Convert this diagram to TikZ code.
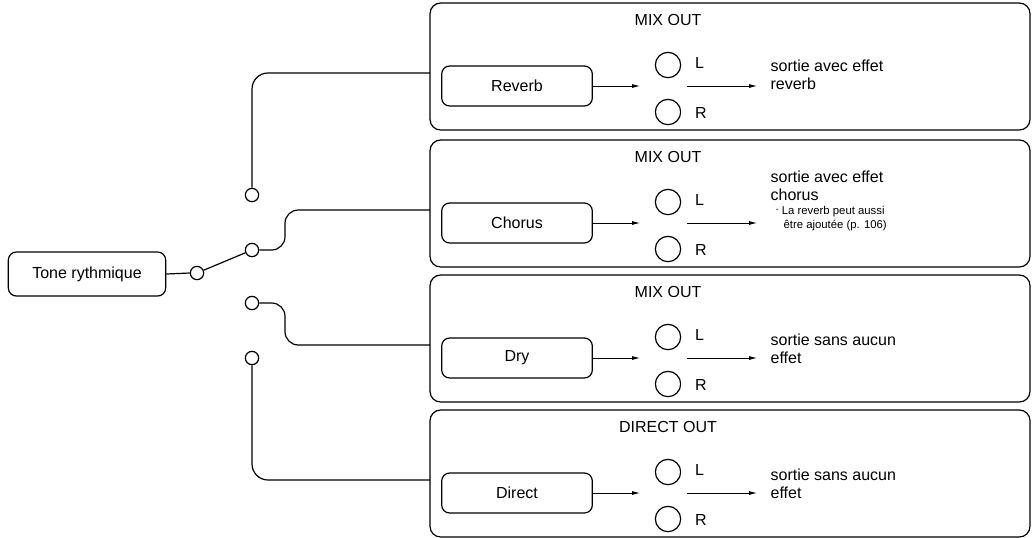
\documentclass[tikz,border=0pt]{standalone}
\usepackage{fontspec}
\setmainfont{Liberation Sans}
\usetikzlibrary{arrows.meta}
\begin{document}
\begin{tikzpicture}[x=0.75pt,y=-0.75pt,line width=0.9pt,
  outer/.style={draw,rounded corners=8pt},
  inner/.style={draw,rounded corners=6pt,minimum width=113pt,minimum height=30pt,font=\fontsize{12}{14}\selectfont},
  jack/.style={draw,circle,minimum size=19pt,inner sep=0pt},
  contact/.style={draw,circle,minimum size=10pt,inner sep=0pt,fill=white},
  lbl/.style={font=\fontsize{12}{14}\selectfont},
  desc/.style={font=\fontsize{12}{14}\selectfont,align=left,anchor=north west,inner sep=0pt},
  arr/.style={-{Latex[length=6pt,width=3pt]},line width=0.6pt}]
\useasboundingbox (0,0) rectangle (1034,537);
% Tone
\node[draw,rounded corners=6pt,minimum width=118pt,minimum height=33pt,lbl] (tone) at (87,274) {Tone rythmique};
\node[contact] (piv) at (197,273) {};
\node[contact] (c1) at (252,195) {};
\node[contact] (c2) at (252,250) {};
\node[contact] (c3) at (252,303) {};
\node[contact] (c4) at (252,358) {};
\draw (tone.east) -- (piv.west);
\draw (piv) -- (c2);
% boxes
\foreach \T/\name/\nm in {3/Reverb/rv,140/Chorus/ch,275/Dry/dr,410/Direct/di}{
  \draw[outer] (430,\T) rectangle (1030,\T+127);
  \node[inner] (\nm) at (517,\T+83) {\name};
  \node[jack] (\nm L) at (668,\T+62) {};
  \node[jack] (\nm R) at (668,\T+109) {};
  \node[lbl,anchor=west] at (690,\T+60) {L};
  \node[lbl,anchor=west] at (690,\T+110) {R};
  \coordinate (\nm a) at (640,\T+83);
  \coordinate (\nm b) at (687,\T+83);
  \coordinate (\nm c) at (757,\T+83);
  \draw[arr] (\nm.east) -- (\nm a);
  \draw[arr] (\nm b) -- (\nm c);
  \coordinate (\nm in) at (430,\T+70);
}
\node[lbl] at (668,20) {MIX OUT};
\node[lbl] at (668,157) {MIX OUT};
\node[lbl] at (668,292) {MIX OUT};
\node[lbl] at (668,427) {DIRECT OUT};
\node[desc] at (770,59) {sortie avec effet\\reverb};
\node[desc] at (770,170) {sortie avec effet\\chorus};
\node[desc,font=\fontsize{8.5}{10}\selectfont] at (775,206) {\raisebox{3pt}{.} La reverb peut aussi\\\hspace*{6pt}être ajoutée (p. 106)};
\node[desc] at (770,333) {sortie sans aucun\\effet};
\node[desc] at (770,468) {sortie sans aucun\\effet};
% wires
\draw[rounded corners=12pt] (c1.north) -- (252,73) -- (rvin);
\draw[rounded corners=10pt] (c2.east) -- (285,250) -- (285,210) -- (chin);
\draw[rounded corners=10pt] (c3.east) -- (285,303) -- (285,345) -- (drin);
\draw[rounded corners=12pt] (c4.south) -- (252,480) -- (diin);
\end{tikzpicture}
\end{document}
